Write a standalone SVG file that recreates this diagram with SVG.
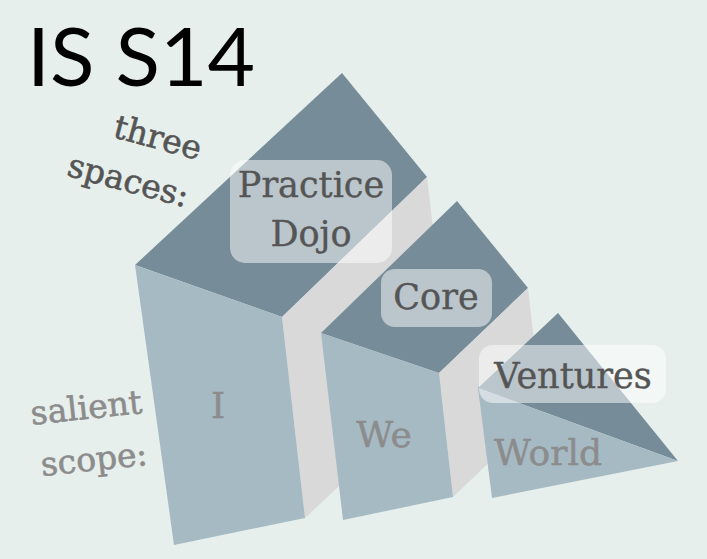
<svg xmlns="http://www.w3.org/2000/svg" width="707" height="559" viewBox="0 0 707 559">
<style>
.top{fill:#768d99}
.front{fill:#a6bac4}
.side{fill:#d9d9d9}
.box{fill:#ffffff;fill-opacity:0.5}
.lbl{font-family:"DejaVu Serif","Liberation Serif",serif;font-size:35px;fill:#555555;text-anchor:middle;stroke:#555555;stroke-width:0.4}
.scope{font-family:"DejaVu Serif","Liberation Serif",serif;font-size:36px;fill:#8c8c8c;text-anchor:middle;stroke:#8c8c8c;stroke-width:0.5}
.note{font-family:"DejaVu Serif","Liberation Serif",serif;font-size:33px;text-anchor:end;stroke-width:0.6}
</style>
<rect width="707" height="559" fill="#e6efeb"/>
<g id="title">
<text x="27" y="86" font-family="Lato,'Open Sans',sans-serif" font-weight="400" font-size="82" fill="#000">IS S14</text>
</g>
<g id="three-spaces">
<text class="note" fill="#555555" stroke="#555555" transform="translate(198,160) rotate(15)"><tspan x="0" y="0">three</tspan><tspan x="0" y="49">spaces:</tspan></text>
</g>
<g id="salient-scope">
<text class="note" fill="#8c8c8c" stroke="#8c8c8c" transform="translate(143,413) rotate(-6)"><tspan x="0" y="0">salient</tspan><tspan x="0" y="52">scope:</tspan></text>
</g>
<g id="block-I">
<polygon class="top" points="135,265 342,73 427,177 282,317"/>
<polygon class="side" points="282,317 427,177 451,381 305,518"/>
<polygon class="front" points="135,265 282,317 305,518 174,545"/>
<text class="scope" x="218" y="418">I</text>
</g>
<g id="block-We">
<polygon class="top" points="321,333 457,201 528,288 439,373"/>
<polygon class="side" points="439,373 528,288 542,412 453,497"/>
<polygon class="front" points="321,333 439,373 453,497 343,520"/>
<text class="scope" x="384" y="447">We</text>
</g>
<g id="block-World">
<polygon class="top" points="478,388 558,313 678,461"/>
<polygon class="front" points="478,388 678,461 492,498"/>
<text class="scope" x="548" y="465">World</text>
</g>
<g id="practice-dojo">
<rect class="box" x="230" y="160" width="162" height="103" rx="15"/>
<text class="lbl" x="311" y="197">Practice</text>
<text class="lbl" x="311" y="246">Dojo</text>
</g>
<g id="core">
<rect class="box" x="381" y="269" width="111" height="58" rx="14"/>
<text class="lbl" x="436" y="309">Core</text>
</g>
<g id="ventures">
<rect class="box" x="479" y="345" width="187" height="58" rx="14"/>
<text class="lbl" x="573" y="388">Ventures</text>
</g>
<g id="connectors"/>
</svg>
